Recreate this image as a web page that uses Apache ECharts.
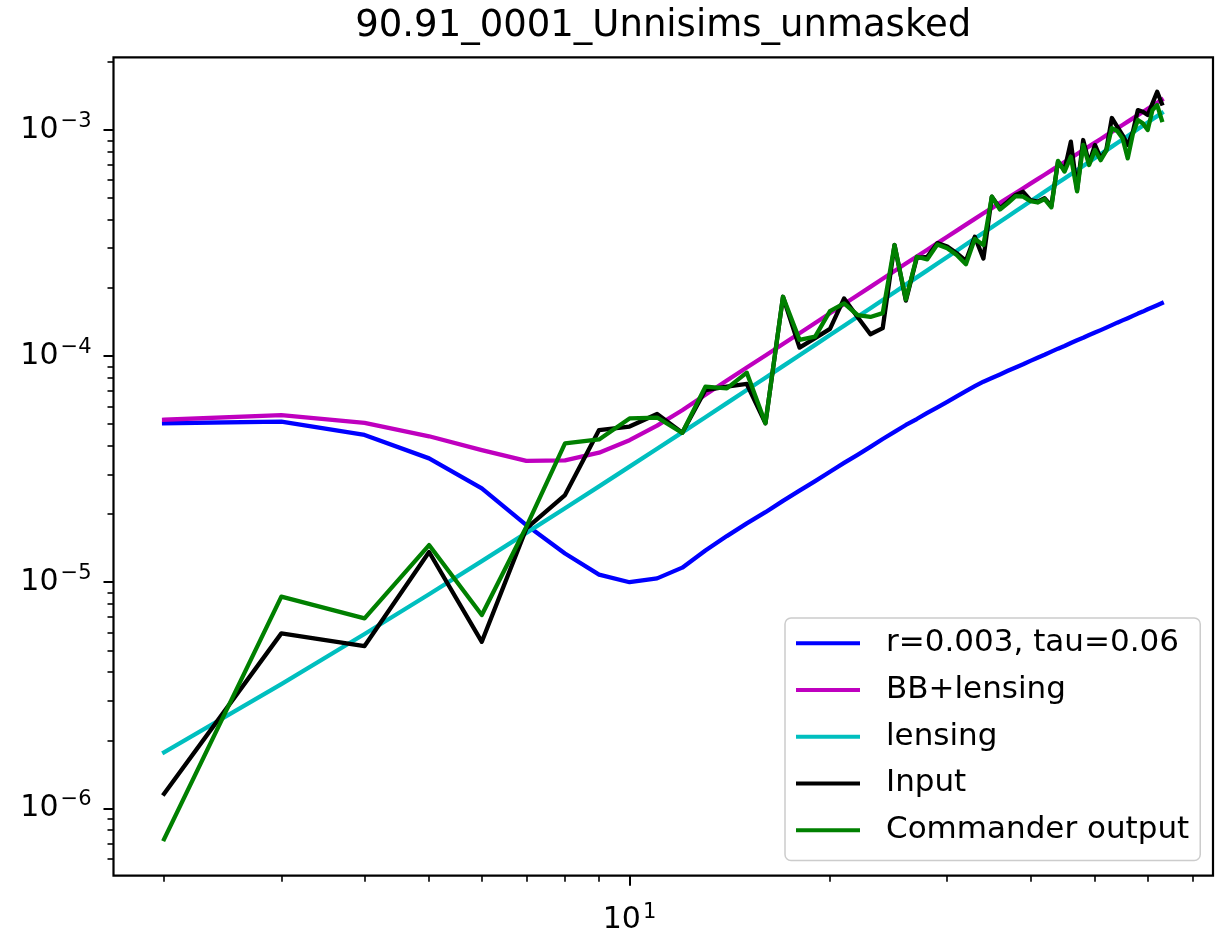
<!DOCTYPE html>
<html><head><meta charset="utf-8">
<script src="https://cdn.jsdelivr.net/npm/echarts@6/dist/echarts.min.js"></script>
<style>html,body{margin:0;padding:0;background:#fff}#c{width:1227px;height:933px}</style>
</head><body><div id="c"></div>
<script>
const TITLE = '90.91_0001_Unnisims_unmasked';
const SERIES_NAMES = ['r=0.003, tau=0.06', 'BB+lensing', 'lensing', 'Input', 'Commander output'];
const SERIES_COLORS = ['#0000ff', '#bf00bf', '#00bfbf', '#000000', '#008000'];

const ELL = [2,3,4,5,6,7,8,9,10,11,12,13,14,15,16,17,18,19,20,21,22,23,24,25,26,27,28,29,30,31,32,
  33,34,35,36,37,38,39,40,41,42,43,44,45,46,47,48,49,50,51,52,53,54,55,56,57,58,59,60,61,62,63];

const R_TAU = [5.05e-5,5.13e-5,4.48e-5,3.53e-5,2.60e-5,1.79e-5,1.34e-5,1.08e-5,1.00e-5,1.04e-5,1.16e-5,
  1.38e-5,1.60e-5,1.82e-5,2.04e-5,2.29e-5,2.54e-5,2.80e-5,3.08e-5,3.37e-5,3.66e-5,3.97e-5,4.30e-5,4.62e-5,
  4.96e-5,5.27e-5,5.61e-5,5.94e-5,6.28e-5,6.64e-5,7.00e-5,7.36e-5,7.71e-5,8.00e-5,8.30e-5,8.61e-5,8.91e-5,
  9.20e-5,9.53e-5,9.84e-5,1.014e-4,1.047e-4,1.079e-4,1.109e-4,1.143e-4,1.175e-4,1.205e-4,1.239e-4,1.271e-4,
  1.303e-4,1.337e-4,1.371e-4,1.406e-4,1.439e-4,1.472e-4,1.507e-4,1.542e-4,1.574e-4,1.611e-4,1.644e-4,1.679e-4,1.714e-4];

const BB_LENSING = [5.23e-5,5.48e-5,5.07e-5,4.42e-5,3.84e-5,3.44e-5,3.46e-5,3.74e-5,4.25e-5,4.93e-5,5.76e-5,
  6.75e-5,7.80e-5,8.90e-5,1.007e-4,1.131e-4,1.262e-4,1.401e-4,1.547e-4,1.700e-4,1.859e-4,2.025e-4,2.200e-4,
  2.380e-4,2.567e-4,2.757e-4,2.956e-4,3.161e-4,3.372e-4,3.590e-4,3.815e-4,4.046e-4,4.282e-4,4.517e-4,4.759e-4,
  5.009e-4,5.263e-4,5.522e-4,5.791e-4,6.064e-4,6.342e-4,6.628e-4,6.920e-4,7.216e-4,7.521e-4,7.830e-4,8.143e-4,
  8.467e-4,8.794e-4,9.126e-4,9.467e-4,9.814e-4,1.0168e-3,1.0525e-3,1.0888e-3,1.1260e-3,1.1637e-3,1.2017e-3,
  1.2408e-3,1.2801e-3,1.3202e-3,1.3608e-3];

const LENSING = [1.77e-6,3.54e-6,5.90e-6,8.85e-6,1.239e-5,1.652e-5,2.124e-5,2.655e-5,3.245e-5,3.894e-5,4.602e-5,
  5.369e-5,6.195e-5,7.080e-5,8.024e-5,9.027e-5,1.0089e-4,1.121e-4,1.239e-4,1.363e-4,1.493e-4,1.628e-4,1.770e-4,
  1.918e-4,2.071e-4,2.230e-4,2.395e-4,2.567e-4,2.744e-4,2.926e-4,3.115e-4,3.310e-4,3.511e-4,3.717e-4,3.929e-4,
  4.148e-4,4.372e-4,4.602e-4,4.838e-4,5.080e-4,5.328e-4,5.581e-4,5.841e-4,6.107e-4,6.378e-4,6.655e-4,6.938e-4,
  7.228e-4,7.523e-4,7.823e-4,8.130e-4,8.443e-4,8.762e-4,9.086e-4,9.416e-4,9.753e-4,1.0095e-3,1.0443e-3,
  1.0797e-3,1.1157e-3,1.1523e-3,1.1894e-3];

const INPUT = [1.16e-6,5.94e-6,5.22e-6,1.36e-5,5.45e-6,1.73e-5,2.43e-5,4.71e-5,4.88e-5,5.55e-5,4.58e-5,
  7.08e-5,7.33e-5,7.53e-5,5.05e-5,1.83e-4,1.09e-4,1.20e-4,1.32e-4,1.80e-4,1.49e-4,1.25e-4,1.33e-4,3.10e-4,
  1.76e-4,2.72e-4,2.75e-4,3.16e-4,3.05e-4,2.85e-4,2.64e-4,3.37e-4,2.70e-4,5.07e-4,4.51e-4,4.82e-4,5.16e-4,
  5.33e-4,4.90e-4,4.82e-4,4.99e-4,4.62e-4,7.24e-4,6.65e-4,8.88e-4,5.43e-4,9.03e-4,7.13e-4,8.59e-4,7.49e-4,
  8.16e-4,1.13e-3,1.035e-3,9.5e-4,8.59e-4,9.83e-4,1.225e-3,1.205e-3,1.165e-3,1.312e-3,1.476e-3,1.31e-3];

const COMMANDER = [7.30e-7,8.63e-6,6.92e-6,1.46e-5,7.16e-6,1.76e-5,4.11e-5,4.28e-5,5.30e-5,5.35e-5,4.58e-5,
  7.33e-5,7.20e-5,8.45e-5,5.05e-5,1.83e-4,1.18e-4,1.22e-4,1.58e-4,1.71e-4,1.52e-4,1.49e-4,1.55e-4,3.10e-4,
  1.78e-4,2.75e-4,2.68e-4,3.12e-4,3.00e-4,2.80e-4,2.55e-4,3.30e-4,3.10e-4,5.07e-4,4.45e-4,4.75e-4,5.10e-4,
  5.07e-4,4.85e-4,4.78e-4,4.95e-4,4.55e-4,7.30e-4,6.55e-4,7.62e-4,5.35e-4,8.59e-4,7.00e-4,8.16e-4,7.35e-4,
  8.10e-4,1.02e-3,9.90e-4,9.20e-4,7.49e-4,9.60e-4,1.107e-3,1.07e-3,1.00e-3,1.225e-3,1.29e-3,1.107e-3];

const X_MAJOR_TICKS = [10];
const X_MINOR_TICKS = [2,3,4,5,6,7,8,9,20,30,40,50,60,70];
const Y_MAJOR_TICKS = [1e-6,1e-5,1e-4,1e-3];
const Y_MINOR_TICKS = [6e-7,7e-7,8e-7,9e-7,
  2e-6,3e-6,4e-6,5e-6,6e-6,7e-6,8e-6,9e-6,
  2e-5,3e-5,4e-5,5e-5,6e-5,7e-5,8e-5,9e-5,
  2e-4,3e-4,4e-4,5e-4,6e-4,7e-4,8e-4,9e-4,
  2e-3];

const X_MIN = 1.679, X_MAX = 75.2;
const Y_MIN = 5.035e-7, Y_MAX = 2.097e-3;

const FONT = 'DejaVu Sans';
const GRID = {left: 113.5, top: 57.3, width: 1099.5, height: 818.4};

function powLabel(v) {
  const e = Math.round(Math.log10(v));
  return '{b|10}{s|' + (e < 0 ? '\u2212' : '') + Math.abs(e) + '}';
}
const LABEL_RICH = {
  b: {fontFamily: FONT, fontSize: 30, lineHeight: 38, color: '#000'},
  s: {fontFamily: FONT, fontSize: 21, lineHeight: 21, color: '#000', verticalAlign: 'top', padding: [0, 0, 0, 2]}
};

function measure(text, font) {
  const ctx = document.createElement('canvas').getContext('2d');
  ctx.font = font;
  return ctx.measureText(text).width;
}
const TITLE_SIZE = 37;
const titleW = measure(TITLE, TITLE_SIZE + 'px "' + FONT + '"');
const gridCenter = GRID.left + GRID.width / 2;

function majorAxis(kind, ticks) {
  const isX = kind === 'x';
  return {
    type: 'log', logBase: 10, min: isX ? X_MIN : Y_MIN, max: isX ? X_MAX : Y_MAX,
    position: isX ? 'bottom' : 'left',
    axisLine: {show: false},
    splitLine: {show: false},
    minorTick: {show: false}, minorSplitLine: {show: false},
    axisTick: {show: true, inside: false, length: 10, customValues: ticks,
      lineStyle: {color: '#000', width: 2}},
    axisLabel: {show: true, customValues: ticks, formatter: powLabel, rich: LABEL_RICH,
      margin: isX ? 26 : 22, color: '#000', showMinLabel: true, showMaxLabel: true, hideOverlap: false}
  };
}
function minorAxis(kind, ticks) {
  const isX = kind === 'x';
  return {
    type: 'log', logBase: 10, min: isX ? X_MIN : Y_MIN, max: isX ? X_MAX : Y_MAX,
    position: isX ? 'bottom' : 'left',
    axisLine: {show: false},
    splitLine: {show: false},
    minorTick: {show: false}, minorSplitLine: {show: false},
    axisTick: {show: true, inside: false, length: 6, customValues: ticks,
      lineStyle: {color: '#000', width: 1.6}},
    axisLabel: {show: false}
  };
}

const SERIES_DATA = [R_TAU, BB_LENSING, LENSING, INPUT, COMMANDER];

const chart = echarts.init(document.getElementById('c'), null, {renderer: 'canvas'});
chart.setOption({
  backgroundColor: '#ffffff',
  animation: false,
  textStyle: {fontFamily: FONT},
  title: {
    text: TITLE,
    left: gridCenter - titleW / 2,
    top: 8,
    padding: 0,
    textStyle: {fontFamily: FONT, fontSize: TITLE_SIZE, fontWeight: 'normal', color: '#000'}
  },
  grid: Object.assign({show: true, borderColor: '#000', borderWidth: 2.2, backgroundColor: 'transparent',
    containLabel: false, outerBoundsMode: 'none'}, GRID),
  xAxis: [majorAxis('x', X_MAJOR_TICKS), minorAxis('x', X_MINOR_TICKS)],
  yAxis: [majorAxis('y', Y_MAJOR_TICKS), minorAxis('y', Y_MINOR_TICKS)],
  legend: {
    show: true,
    orient: 'vertical',
    left: 785, top: 618,
    padding: [2, 11, 7, 11],
    itemGap: 0,
    itemWidth: 64, itemHeight: 4,
    icon: 'rect',
    itemStyle: {borderWidth: 0},
    backgroundColor: 'rgba(255,255,255,0.8)',
    borderColor: '#cccccc', borderWidth: 1.5, borderRadius: 6,
    textStyle: {fontFamily: FONT, fontSize: 31, color: '#000', lineHeight: 46.7, padding: [0, 0, 0, 21]},
    selectedMode: false,
    data: SERIES_NAMES.map(n => ({name: n, icon: 'rect'}))
  },
  series: SERIES_NAMES.map((name, i) => ({
    name: name,
    type: 'line',
    xAxisIndex: 0, yAxisIndex: 0,
    data: ELL.map((l, j) => [l, SERIES_DATA[i][j]]),
    showSymbol: false, symbol: 'none',
    color: SERIES_COLORS[i],
    lineStyle: {color: SERIES_COLORS[i], width: 4.3, join: 'round', cap: 'square'},
    emphasis: {disabled: true},
    silent: true,
    clip: true,
    z: 2 + i
  }))
});
</script>
</body></html>
